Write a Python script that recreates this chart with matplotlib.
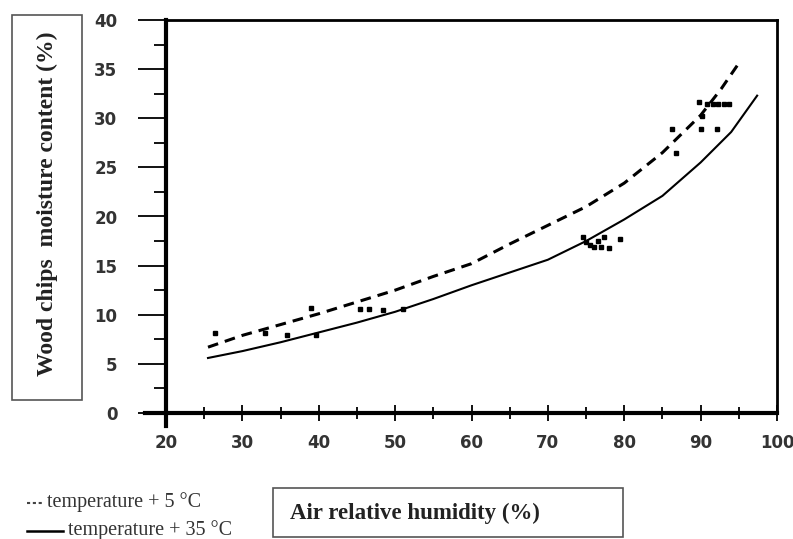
import matplotlib
matplotlib.use("Agg")
import matplotlib.pyplot as plt
from matplotlib.patches import Rectangle
from matplotlib.ticker import MultipleLocator

# ---- data ----
obs_x = [26.4, 33.0, 35.9, 39.0, 39.7, 45.4, 46.6, 48.4, 51.0,
         74.6, 75.0, 75.5, 76.0, 76.5, 77.0, 77.3, 78.0, 79.4,
         86.3, 86.8, 89.8, 90.0, 90.2, 90.9, 91.6, 92.3, 93.0, 93.7, 92.2]
obs_y = [8.1, 8.1, 7.9, 10.7, 7.9, 10.6, 10.6, 10.5, 10.6,
         17.9, 17.4, 17.1, 16.9, 17.5, 16.9, 17.9, 16.8, 17.7,
         28.9, 26.5, 31.7, 28.9, 30.2, 31.5, 31.5, 31.5, 31.5, 31.5, 28.9]

t5_x = [25.5, 30, 35, 40, 45, 50, 55, 60, 65, 70, 75, 80, 85, 90, 92.7, 95]
t5_y = [6.7, 7.9, 9.0, 10.1, 11.3, 12.5, 13.9, 15.2, 17.2, 19.1, 21.0, 23.4, 26.5, 30.3, 33.0, 35.6]

t35_x = [25.5, 30, 35, 40, 45, 50, 55, 60, 65, 70, 75, 80, 85, 90, 94, 97.4]
t35_y = [5.6, 6.3, 7.2, 8.2, 9.2, 10.3, 11.6, 13.0, 14.3, 15.6, 17.5, 19.7, 22.1, 25.5, 28.6, 32.3]

x_ticks = [20, 30, 40, 50, 60, 70, 80, 90, 100]
y_ticks = [0, 5, 10, 15, 20, 25, 30, 35, 40]

legend_labels = ["temperature + 5 \u00b0C", "temperature + 35 \u00b0C"]
xlabel = "Air relative humidity (%)"
ylabel = "Wood chips  moisture content (%)"

W, H = 793, 539
fig = plt.figure(figsize=(W / 100, H / 100), dpi=100)
ax = fig.add_axes([166 / W, 1 - 413 / H, (777 - 166) / W, (413 - 20) / H])

ax.plot(t5_x, t5_y, color="black", lw=2.2, linestyle=(0, (3.5, 2.3)))
ax.plot(t35_x, t35_y, color="black", lw=1.5, linestyle="-")
ax.plot(obs_x, obs_y, linestyle="none", marker="s", ms=3.2, color="black")

ax.set_xlim(20, 100)
ax.set_ylim(0, 40)
ax.set_xticks(x_ticks)
ax.set_yticks(y_ticks)
ax.xaxis.set_minor_locator(MultipleLocator(5))
ax.yaxis.set_minor_locator(MultipleLocator(2.5))

for s in ["left", "bottom"]:
    ax.spines[s].set_linewidth(3.0)
for s in ["top", "right"]:
    ax.spines[s].set_linewidth(2.0)

ax.tick_params(axis="y", which="major", direction="out", length=20, width=1.3, pad=15)
ax.tick_params(axis="y", which="minor", direction="out", length=9, width=1.3)
ax.tick_params(axis="x", which="major", direction="inout", length=12, width=1.3, pad=9)
ax.tick_params(axis="x", which="minor", direction="inout", length=8, width=1.3)

for lab in ax.get_xticklabels() + ax.get_yticklabels():
    lab.set_fontfamily("DejaVu Sans")
    lab.set_fontweight("bold")
    lab.set_fontsize(12)
    lab.set_color("#333333")

# extend axis lines beyond the corner like the reference
ax.plot([20, 20], [0, -1.3], color="black", lw=3.0, clip_on=False)
ax.plot([17.2, 20], [0, 0], color="black", lw=3.0, clip_on=False)

# y-label box
fig.add_artist(Rectangle((12 / W, 1 - 400 / H), 70 / W, 385 / H,
                         transform=fig.transFigure, fill=False, ec="#555555", lw=1.2))
fig.text(47 / W, 1 - 204 / H, ylabel, rotation=90, ha="center", va="center",
         family="Liberation Serif", weight="bold", fontsize=17, color="#222222")

# x-label box
fig.add_artist(Rectangle((273 / W, 1 - 537 / H), 350 / W, 49 / H,
                         transform=fig.transFigure, fill=False, ec="#555555", lw=1.2))
fig.text(290 / W, 1 - 513 / H, xlabel, ha="left", va="center",
         family="Liberation Serif", weight="bold", fontsize=16.5, color="#222222")

# legend (drawn manually like in the reference)
fig.add_artist(plt.Line2D([27 / W, 42 / W], [1 - 503 / H, 1 - 503 / H],
                          transform=fig.transFigure, color="#444444", lw=1.5,
                          linestyle=(0, (1.5, 1.3))))
fig.add_artist(plt.Line2D([27 / W, 63 / W], [1 - 531 / H, 1 - 531 / H],
                          transform=fig.transFigure, color="black", lw=1.8))
fig.text(47 / W, 1 - 502 / H, legend_labels[0], ha="left", va="center",
         family="Liberation Serif", fontsize=14.5, color="#333333")
fig.text(68 / W, 1 - 530 / H, legend_labels[1], ha="left", va="center",
         family="Liberation Serif", fontsize=14.5, color="#333333")

fig.savefig("out.png", dpi=100)
